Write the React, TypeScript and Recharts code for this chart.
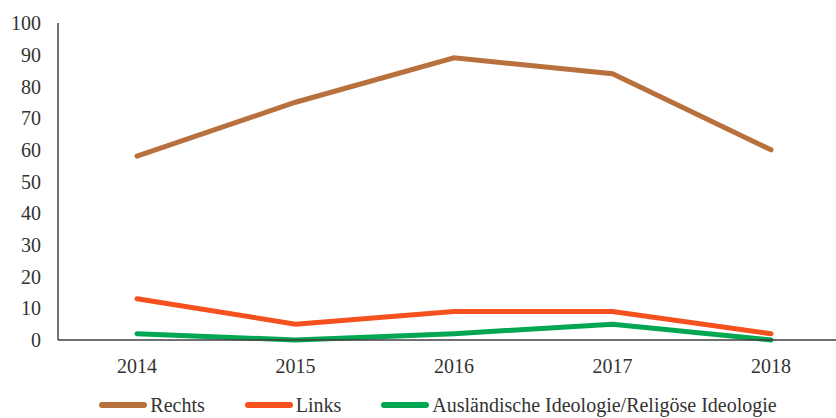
import { Legend, Line, LineChart, XAxis, YAxis } from "recharts";

const years = ["2014", "2015", "2016", "2017", "2018"];
const rechts = [58, 75, 89, 84, 60];
const links = [13, 5, 9, 9, 2];
const auslaendisch = [2, 0, 2, 5, 0];
const yTicks = [0, 10, 20, 30, 40, 50, 60, 70, 80, 90, 100];

const series = [
  { key: "rechts", name: "Rechts", color: "#B8703C" },
  { key: "links", name: "Links", color: "#F4511E" },
  { key: "ausl", name: "Ausländische Ideologie/Religöse Ideologie", color: "#00A651" },
];

const data = years.map((year, i) => ({
  year,
  rechts: rechts[i],
  links: links[i],
  ausl: auslaendisch[i],
}));

const family = "'Liberation Serif', 'Times New Roman', serif";
const font = { fontFamily: family, fontSize: 20, fill: "#333" };

function LegendContent() {
  return (
    <div
      style={{
        display: "flex",
        justifyContent: "center",
        alignItems: "center",
        height: 28,
        paddingTop: 5,
        paddingLeft: 26,
        fontFamily: family,
        fontSize: 20,
        lineHeight: "22px",
        color: "#333",
      }}
    >
      {series.map((s, i) => (
        <div key={s.key} style={{ display: "flex", alignItems: "center", marginLeft: i === 0 ? 0 : 40 }}>
          <div style={{ width: 48, height: 6, borderRadius: 3, background: s.color, marginRight: 3 }} />
          <span>{s.name}</span>
        </div>
      ))}
    </div>
  );
}

export default function App() {
  return (
    <div style={{ position: "fixed", top: 0, left: 0, width: 836, height: 418, overflow: "hidden", background: "#fff" }}>
      <LineChart width={850} height={418} data={data} margin={{ top: 23, right: 0, left: 0, bottom: 2 }}>
        <XAxis
          dataKey="year"
          tick={font}
          tickLine={false}
          axisLine={{ stroke: "#404040", strokeWidth: 1.5 }}
          padding={{ left: 79, right: 79 }}
          height={46}
          tickMargin={13}
        />
        <YAxis
          domain={[0, 100]}
          ticks={yTicks}
          tick={font}
          tickLine={false}
          axisLine={{ stroke: "#404040", strokeWidth: 1.5 }}
          width={58}
          tickMargin={11}
        />
        <Legend verticalAlign="bottom" content={<LegendContent />} height={30} />
        {series.map((s) => (
          <Line
            key={s.key}
            dataKey={s.key}
            name={s.name}
            stroke={s.color}
            strokeWidth={5}
            strokeLinecap="round"
            dot={false}
            isAnimationActive={false}
          />
        ))}
      </LineChart>
    </div>
  );
}
